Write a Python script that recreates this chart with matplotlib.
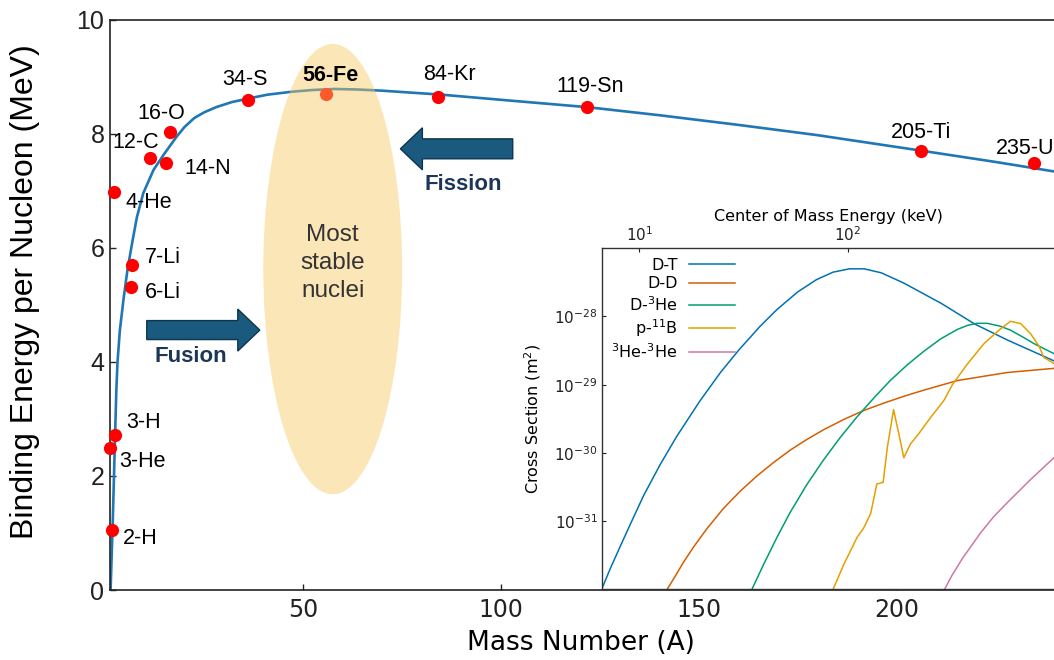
import matplotlib
matplotlib.use("Agg")
import matplotlib.pyplot as plt
from matplotlib.patches import Ellipse, FancyArrow

plt.rcParams["font.family"] = ["Liberation Sans", "DejaVu Sans"]

# binding energy per nucleon along the valley of stability
curve_a = [1.35, 1.9, 2.4, 2.8, 3.1, 3.7, 4.6, 5.6, 6.8, 8.0, 9.6, 12.2, 15.0,
           18.0, 20.0, 22.5, 25.0, 28.0, 32.0, 36.0, 41.0, 47.0, 52.0, 58.0,
           64.0, 70.0, 85.0, 100.0, 122.0, 140.0, 160.0, 180.0, 207.0, 225.0,
           241.0, 260.0]
curve_be = [0.0, 1.2, 2.5, 3.5, 4.0, 4.56, 5.09, 5.61, 6.09, 6.54, 6.96, 7.37,
            7.66, 7.95, 8.12, 8.28, 8.38, 8.47, 8.56, 8.62, 8.69, 8.74, 8.77,
            8.79, 8.78, 8.76, 8.69, 8.60, 8.47, 8.33, 8.16, 7.98, 7.70, 7.51,
            7.33, 7.11]

# marked nuclides
nuclide_names = ["2-H", "3-He", "3-H", "4-He", "6-Li", "7-Li", "12-C", "14-N",
                 "16-O", "34-S", "56-Fe", "84-Kr", "119-Sn", "205-Ti", "235-U"]
nuclide_a = [1.72, 1.31, 2.40, 2.15, 6.62, 6.78, 11.25, 15.3, 16.3, 36.0,
             55.9, 84.1, 121.7, 206.2, 234.8]
nuclide_be = [1.05, 2.49, 2.72, 6.98, 5.32, 5.70, 7.58, 7.49, 8.04, 8.60,
              8.70, 8.65, 8.47, 7.70, 7.49]

# fusion cross sections vs centre-of-mass energy (keV, m^2)
dt_e = [6.59, 7.24, 8.13, 9.12, 10.5, 12.6, 15.1, 19.5, 24.5, 30.2, 38.0,
        45.7, 57.5, 70.8, 85.1, 102, 120, 145, 186, 282, 407, 589, 977]
dt_xs = [1.0e-32, 2.0e-32, 4.4e-32, 9.5e-32, 2.4e-31, 6.8e-31, 1.74e-30,
         5.75e-30, 1.51e-29, 3.3e-29, 7.2e-29, 1.26e-28, 2.29e-28, 3.47e-28,
         4.47e-28, 5.0e-28, 5.0e-28, 4.37e-28, 3.09e-28, 1.55e-28, 7.76e-29,
         4.47e-29, 2.24e-29]
dd_e = [13.6, 14.9, 16.3, 18.2, 21.1, 25.4, 30.5, 36.6, 44.1, 53.0, 63.8,
        76.7, 95.7, 119, 149, 186, 232, 336, 583, 986]
dd_xs = [1.0e-32, 1.58e-32, 2.51e-32, 4.17e-32, 7.76e-32, 1.55e-31, 2.75e-31,
         4.57e-31, 7.24e-31, 1.10e-30, 1.58e-30, 2.19e-30, 3.09e-30, 4.17e-30,
         5.37e-30, 6.76e-30, 8.32e-30, 1.15e-29, 1.51e-29, 1.74e-29]
dhe3_e = [34.7, 39.4, 45.9, 53.0, 63.8, 76.7, 92.3, 111, 134, 160, 193, 232,
          279, 336, 376, 417, 468, 537, 605, 692, 787, 986]
dhe3_xs = [1.0e-32, 2.29e-32, 5.89e-32, 1.35e-31, 3.47e-31, 7.94e-31,
           1.70e-30, 3.39e-30, 6.46e-30, 1.15e-29, 1.95e-29, 3.09e-29,
           4.68e-29, 6.46e-29, 7.41e-29, 7.94e-29, 7.94e-29, 7.24e-29,
           6.31e-29, 5.01e-29, 3.98e-29, 2.82e-29]
pb11_e = [85.1, 95.7, 111, 119, 129, 138, 148, 155, 166, 176, 186, 200, 219,
          250, 290, 318, 375, 451, 542, 605, 676, 755, 828, 875, 942, 986]
pb11_xs = [1.0e-32, 2.3e-32, 5.8e-32, 7.8e-32, 1.3e-31, 3.5e-31, 3.7e-31,
           1.2e-30, 4.3e-30, 1.9e-30, 8.5e-31, 1.35e-30, 1.9e-30, 3.3e-30,
           5.9e-30, 1.0e-29, 2.0e-29, 4.0e-29, 6.6e-29, 8.5e-29, 7.9e-29,
           5.6e-29, 3.7e-29, 2.5e-29, 2.2e-29, 2.0e-29]
he3he3_e = [292, 316, 355, 435, 501, 583, 755, 986]
he3he3_xs = [1.0e-32, 1.58e-32, 2.82e-32, 6.76e-32, 1.15e-31, 1.86e-31,
             4.07e-31, 8.71e-31]

reactions = [
    ("D-T", dt_e, dt_xs, "#0072B2"),
    ("D-D", dd_e, dd_xs, "#D55E00"),
    ("D-$^{3}$He", dhe3_e, dhe3_xs, "#009E73"),
    ("p-$^{11}$B", pb11_e, pb11_xs, "#E69F00"),
    ("$^{3}$He-$^{3}$He", he3he3_e, he3he3_xs, "#CC79A7"),
]

# where each nuclide name sits: (A, BE, ha)
label_pos = {
    "2-H": (4.5, 0.90, "left"), "3-He": (3.5, 2.26, "left"),
    "3-H": (5.4, 2.94, "left"), "4-He": (5.2, 6.80, "left"),
    "6-Li": (10.0, 5.22, "left"), "7-Li": (10.0, 5.83, "left"),
    "12-C": (1.9, 7.85, "left"), "14-N": (20.1, 7.39, "left"),
    "16-O": (8.2, 8.36, "left"), "34-S": (35.3, 8.95, "center"),
    "56-Fe": (57.0, 9.02, "center"), "84-Kr": (86.9, 9.04, "center"),
    "119-Sn": (122.5, 8.84, "center"), "205-Ti": (206.2, 8.03, "center"),
    "235-U": (225.1, 7.75, "left"),
}

ARROW = "#1a5a7e"
ARROW_EDGE = "#0e3550"
NAVY = "#1d3658"

fig = plt.figure(figsize=(10.54, 6.6), dpi=100)
ax = fig.add_axes([0.10436, 0.10606, 0.9714, 0.86364])

ax.plot(curve_a, curve_be, color="#1f77b4", lw=1.9, zorder=2)
ax.plot(nuclide_a, nuclide_be, "o", color="red", ms=9.5, mec="none",
        zorder=3, clip_on=False)

ax.add_patch(Ellipse((57.5, 5.63), 35.1, 7.9, fc="#f7c862", ec="none",
                     alpha=0.45, zorder=4))
ax.text(57.5, 5.74, "Most\nstable\nnuclei", ha="center", va="center",
        fontsize=17.5, color="#333333", linespacing=1.35, zorder=5)

for name in nuclide_names:
    x, y, ha = label_pos[name]
    ax.text(x, y, name, ha=ha, va="center", fontsize=15.5, color="black",
            fontweight="bold" if name == "56-Fe" else "normal", zorder=6,
            clip_on=False)

ax.add_patch(FancyArrow(10.49, 4.56, 28.57, 0, width=0.333, head_width=0.737,
                        head_length=5.56, length_includes_head=True,
                        fc=ARROW, ec=ARROW_EDGE, lw=1.0, zorder=5))
ax.add_patch(FancyArrow(103.0, 7.74, -28.4, 0, width=0.35, head_width=0.737,
                        head_length=5.56, length_includes_head=True,
                        fc=ARROW, ec=ARROW_EDGE, lw=1.0, zorder=5))
ax.text(21.6, 4.09, "Fusion", ha="center", va="center", fontsize=16,
        fontweight="bold", color=NAVY, zorder=6)
ax.text(90.6, 7.11, "Fission", ha="center", va="center", fontsize=16,
        fontweight="bold", color=NAVY, zorder=6)

ax.set_xlim(1.2, 260)
ax.set_ylim(0, 10)
ax.set_xticks([50, 100, 150, 200])
ax.set_yticks(range(0, 11, 2))
ax.tick_params(direction="in", length=4, width=1, colors="#222222",
               top=False, right=False)
ax.tick_params(axis="y", labelsize=18, pad=4)
ax.tick_params(axis="x", labelsize=17, pad=6)
for lbl in ax.get_xticklabels():
    lbl.set_family("DejaVu Sans")
ax.spines["right"].set_visible(False)
for s in ("left", "bottom", "top"):
    ax.spines[s].set_linewidth(1.2)
    ax.spines[s].set_color("#222222")

ax.set_ylabel("Binding Energy per Nucleon (MeV)", fontsize=23, va="center")
ax.yaxis.set_label_coords(-0.083, 0.523)
ax.set_xlabel("Mass Number (A)", fontsize=19, va="center",
              family="DejaVu Sans")
ax.xaxis.set_label_coords(0.460, -0.093)

# cross-section inset
axi = fig.add_axes([0.57087, 0.10712, 0.43102, 0.51667])
for name, e, xs, c in reactions:
    axi.plot(e, xs, color=c, lw=1.1, label=name)
axi.set_xscale("log")
axi.set_yscale("log")
axi.set_xlim(10 ** 0.819, 1000)
axi.set_ylim(1e-32, 1e-27)
axi.set_xticks([10, 100])
axi.set_yticks([1e-31, 1e-30, 1e-29, 1e-28])
axi.minorticks_off()
axi.xaxis.tick_top()
axi.xaxis.set_label_position("top")
axi.tick_params(direction="in", length=3, width=0.8, labelsize=11,
                colors="#222222", pad=3)
for lbl in axi.get_xticklabels() + axi.get_yticklabels():
    lbl.set_family("DejaVu Sans")
for s in axi.spines.values():
    s.set_linewidth(1.0)
    s.set_color("#333333")
axi.set_xlabel("Center of Mass Energy (keV)", fontsize=11.5,
               family="DejaVu Sans", labelpad=3)
axi.set_ylabel("Cross Section (m$^2$)", fontsize=11.5, family="DejaVu Sans",
               va="center")
axi.yaxis.set_label_coords(-0.151, 0.5)
axi.legend(loc="upper left", bbox_to_anchor=(0.0, 1.0), frameon=False,
           markerfirst=False, handlelength=2.9, handletextpad=0.7,
           labelspacing=0.22, borderaxespad=0.2,
           prop={"family": "DejaVu Sans", "size": 11.5})

fig.savefig("out.png", dpi=100)
